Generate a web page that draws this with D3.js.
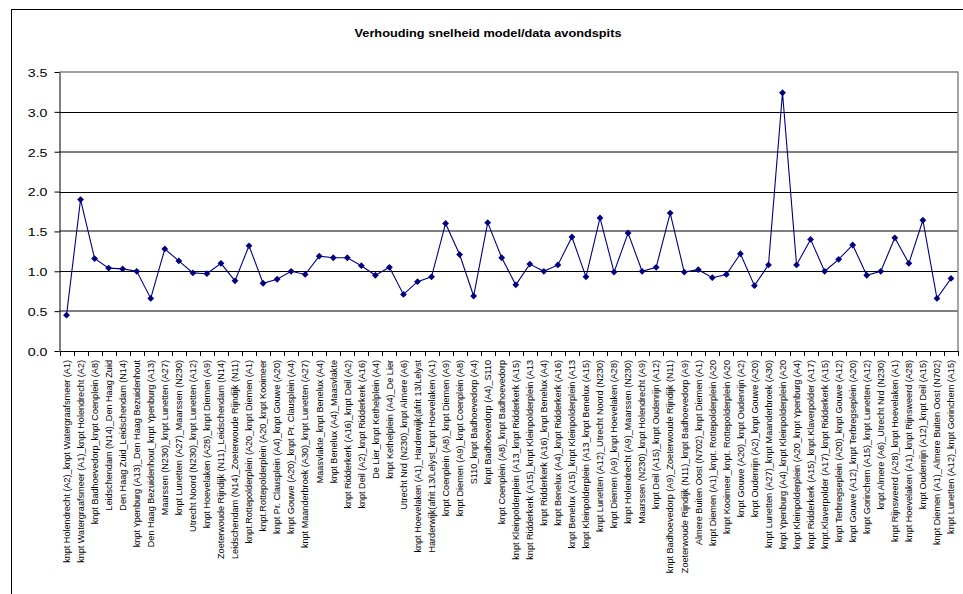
<!DOCTYPE html>
<html>
<head>
<meta charset="utf-8">
<script src="https://cdn.jsdelivr.net/npm/d3@7"></script>
<style>
  html, body { margin: 0; padding: 0; background: #fff; }
  svg { display: block; }
  text { font-family: "Liberation Sans", Arial, sans-serif; fill: #000; }
</style>
</head>
<body>
<svg id="chart" width="963" height="594"></svg>
<script>
// Route segments (category axis)
const routes = [
  "knpt Holendrecht (A2)_knpt Watergraafsmeer (A1)",
  "knpt Watergraafsmeer (A1)_knpt Holendrecht (A2)",
  "knpt Badhoevedorp_knpt Coenplein (A8)",
  "Leidschendam (N14)_Den Haag Zuid",
  "Den Haag Zuid_Leidschendam (N14)",
  "knpt Ypenburg (A13)_Den Haag Bezuidenhout",
  "Den Haag Bezuidenhout_knpt Ypenburg (A13)",
  "Maarssen (N230)_knpt Lunetten (A27)",
  "knpt Lunetten (A27)_Maarssen (N230)",
  "Utrecht Noord (N230)_knpt Lunetten (A12)",
  "knpt Hoevelaken (A28)_knpt Diemen (A9)",
  "Zoeterwoude Rijndijk (N11)_Leidschendam (N14)",
  "Leidschendam (N14)_Zoeterwoude Rijndijk (N11)",
  "knpt.Rottepolderplein (A20_knpt Diemen (A1)",
  "knpt.Rottepolderplein (A20_knpt Kooimeer",
  "knpt Pr. Clausplein (A4)_knpt Gouwe (A20)",
  "knpt Gouwe (A20)_knpt Pr. Clausplein (A4)",
  "knpt Maanderbroek (A30)_knpt Lunetten (A27)",
  "Maasvlakte_knpt Benelux (A4)",
  "knpt Benelux (A4)_Maasvlakte",
  "knpt Ridderkerk (A16)_knpt Deil (A2)",
  "knpt Deil (A2)_knpt Ridderkerk (A16)",
  "De Lier_knpt Kethelplein (A4)",
  "knpt Kethelplein (A4)_De Lier",
  "Utrecht Nrd (N230)_knpt Almere (A6)",
  "knpt Hoevelaken (A1)_Harderwijk(afrit 13/Lelyst",
  "Harderwijk(afrit 13/Lelyst_knpt Hoevelaken (A1)",
  "knpt Coenplein (A8)_knpt Diemen (A9)",
  "knpt Diemen (A9)_knpt Coenplein (A8)",
  "S110_knpt Badhoevedorp (A4)",
  "knpt Badhoevedorp (A4)_S110",
  "knpt Coenplein (A8)_knpt Badhoevedorp",
  "knpt Kleinpolderplein (A13_knpt Ridderkerk (A15)",
  "knpt Ridderkerk (A15)_knpt Kleinpolderplein (A13",
  "knpt Ridderkerk (A16)_knpt Benelux (A4)",
  "knpt Benelux (A4)_knpt Ridderkerk (A16)",
  "knpt Benelux (A15)_knpt Kleinpolderplein (A13",
  "knpt Kleinpolderplein (A13_knpt Benelux (A15)",
  "knpt Lunetten (A12)_Utrecht Noord (N230)",
  "knpt Diemen (A9)_knpt Hoevelaken (A28)",
  "knpt Holendrecht (A9)_Maarssen (N230)",
  "Maarssen (N230)_knpt Holendrecht (A9)",
  "knpt Deil (A15)_knpt Oudenrijn (A12)",
  "knpt Badhoevedorp (A9)_Zoeterwoude Rijndijk (N11)",
  "Zoeterwoude Rijndijk (N11)_knpt Badhoevedorp (A9)",
  "Almere Buiten Oost (N702)_knpt Diemen (A1)",
  "knpt Diemen (A1)_knpt. Rottepolderplein (A20",
  "knpt Kooimeer_knpt. Rottepolderplein (A20",
  "knpt Gouwe (A20)_knpt Oudenrijn (A2)",
  "knpt Oudenrijn (A2)_knpt Gouwe (A20)",
  "knpt Lunetten (A27)_knpt Maanderbroek (A30)",
  "knpt Ypenburg (A4)_knpt Kleinpolderplein (A20",
  "knpt Kleinpolderplein (A20_knpt Ypenburg (A4)",
  "knpt Ridderkerk (A15)_knpt.Klaverpolder (A17)",
  "knpt.Klaverpolder (A17)_knpt Ridderkerk (A15)",
  "knpt Terbregseplein (A20)_knpt Gouwe (A12)",
  "knpt Gouwe (A12)_knpt Terbregseplein (A20)",
  "knpt Gorinchem (A15)_knpt Lunetten (A12)",
  "knpt Almere (A6)_Utrecht Nrd (N230)",
  "knpt Rijnsweerd (A28)_knpt Hoevelaken (A1)",
  "knpt Hoevelaken (A1)_knpt Rijnsweerd (A28)",
  "knpt Oudenrijn (A12)_knpt Deil (A15)",
  "knpt Diemen (A1)_Almere Buiten Oost (N702)",
  "knpt Lunetten (A12)_knpt Gorinchem (A15)"
];

// Speed ratio model/data, evening peak
const ratios = [
  0.45, 1.90, 1.16, 1.04, 1.03, 1.00, 0.66, 1.28, 1.13, 0.98,
  0.97, 1.10, 0.88, 1.32, 0.85, 0.90, 1.00, 0.96, 1.19, 1.17,
  1.17, 1.07, 0.95, 1.05, 0.71, 0.87, 0.93, 1.60, 1.21, 0.69,
  1.61, 1.17, 0.83, 1.09, 1.00, 1.08, 1.43, 0.93, 1.67, 0.99,
  1.48, 1.00, 1.05, 1.73, 0.99, 1.02, 0.92, 0.96, 1.22, 0.82,
  1.08, 3.24, 1.08, 1.40, 1.00, 1.15, 1.33, 0.95, 1.00, 1.42,
  1.10, 1.64, 0.66, 0.91
];

// Value axis ticks
const yTicks = [0, 0.5, 1.0, 1.5, 2.0, 2.5, 3.0, 3.5];

const chartTitle = "Verhouding snelheid model/data avondspits";

(function draw() {
  const svg = d3.select("#chart");

  // chart area frame (runs past the right and bottom edges)
  svg.append("rect")
    .attr("x", 11.5).attr("y", 9.5)
    .attr("width", 980).attr("height", 620)
    .attr("fill", "#fff").attr("stroke", "#000").attr("stroke-width", 1);

  const plotLeft = 59.5, plotRight = 958, plotTop = 72, plotBottom = 351;

  const x = d3.scaleBand().domain(routes).range([plotLeft, plotRight]).padding(0);
  const y = d3.scaleLinear().domain([0, 3.5]).range([plotBottom, plotTop]);

  // title
  svg.append("text")
    .attr("x", 488).attr("y", 36.5)
    .attr("text-anchor", "middle")
    .attr("font-size", 11.5).attr("font-weight", "bold")
    .attr("textLength", 267).attr("lengthAdjust", "spacingAndGlyphs")
    .text(chartTitle);

  // horizontal gridlines: whole units crisp, half units softer
  const gridY = d => Math.round(y(d)) + (Number.isInteger(d) ? 0.5 : 0);
  svg.append("g").selectAll("line")
    .data(yTicks.filter(v => v > 0 && v < 3.5))
    .join("line")
    .attr("x1", plotLeft).attr("x2", plotRight)
    .attr("y1", gridY).attr("y2", gridY)
    .attr("stroke", "#000").attr("stroke-width", 1);

  // plot area border (top and right)
  svg.append("path")
    .attr("d", `M${plotLeft},${Math.round(y(3.5))}H${plotRight}V${plotBottom}`)
    .attr("fill", "none").attr("stroke", "#808080").attr("stroke-width", 1.4);

  // value axis
  const yAxis = svg.append("g")
    .attr("transform", `translate(${plotLeft},0)`)
    .call(d3.axisLeft(y).tickValues(yTicks).tickFormat(d3.format(".1f")).tickSize(5).tickSizeOuter(0));
  yAxis.select(".domain").attr("stroke", "#000");
  yAxis.selectAll(".tick line").attr("stroke", "#000");
  yAxis.selectAll(".tick text")
    .attr("x", 0).attr("dy", "0.42em")
    .attr("font-size", 10.5)
    .attr("font-family", "'Liberation Sans', Arial, sans-serif")
    .attr("transform", "translate(-12,0) scale(1.35,1)");

  // category axis
  const xAxis = svg.append("g")
    .attr("transform", `translate(0,${plotBottom})`)
    .call(d3.axisBottom(x).tickSize(0).tickSizeOuter(0));
  xAxis.select(".domain").attr("stroke", "#000");
  xAxis.selectAll(".tick text")
    .attr("font-size", 9.1)
    .attr("font-family", "'Liberation Sans', Arial, sans-serif")
    .attr("text-anchor", "end")
    .attr("x", 0).attr("y", 0)
    .attr("dy", "0.36em")
    .attr("transform", "translate(0,9) rotate(-90)");

  // tick marks between categories
  const bounds = routes.map(r => x(r)).concat([x(routes[routes.length - 1]) + x.bandwidth()]);
  xAxis.append("g").selectAll("line")
    .data(bounds)
    .join("line")
    .attr("x1", d => Math.round(d) + 0.5).attr("x2", d => Math.round(d) + 0.5)
    .attr("y1", 0).attr("y2", 5)
    .attr("stroke", "#000");

  // series line
  const cx = (d, i) => x(routes[i]) + x.bandwidth() / 2;
  svg.append("path")
    .datum(ratios)
    .attr("d", d3.line().x(cx).y(d => y(d)))
    .attr("fill", "none")
    .attr("stroke", "#000080")
    .attr("stroke-width", 1.1);

  // diamond markers
  const r = 3.4;
  svg.append("g").selectAll("path")
    .data(ratios)
    .join("path")
    .attr("transform", (d, i) => `translate(${cx(d, i)},${y(d)})`)
    .attr("d", `M0,${-r}L${r},0L0,${r}L${-r},0Z`)
    .attr("fill", "#000080");
})();
</script>
</body>
</html>
